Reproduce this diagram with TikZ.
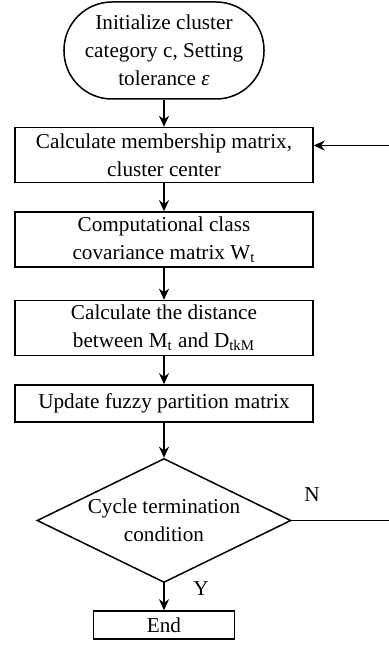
\documentclass[tikz,border=0pt]{standalone}
\usepackage{fontspec}
\setmainfont{Liberation Serif}
\usetikzlibrary{positioning,shapes.geometric,arrows.meta}

\tikzset{
  every node/.style={font=\fontsize{10.6}{14}\selectfont, align=center},
  startbox/.style={draw, line width=0.75pt, rounded corners=24pt, minimum width=100pt, minimum height=48.5pt, inner sep=0pt},
  stepbox/.style={draw, line width=0.75pt, minimum width=149pt, minimum height=27.5pt, inner sep=1pt},
  testbox/.style={draw, line width=0.75pt, diamond, aspect=2, minimum width=127pt, minimum height=62pt, inner sep=0pt},
  flow/.style={line width=0.75pt, -{Stealth[length=5.5pt,width=5pt]}}
}

\begin{document}
\begin{tikzpicture}
  \useasboundingbox (-82pt,25.25pt) rectangle (112pt,-300.75pt);
  \node[startbox] (init) {Initialize cluster\\category c, Setting\\tolerance {\itshape ε}};
  \node[stepbox, below=13.5pt of init] (member) {Calculate membership matrix,\\cluster center};
  \node[stepbox, below=14pt of member] (covar) {Computational class\\covariance matrix W\textsubscript{t}};
  \node[stepbox, below=16pt of covar] (dist) {Calculate the distance\\between M\textsubscript{t} and D\textsubscript{tkM}};
  \node[stepbox, minimum height=18.5pt, below=14pt of dist] (update) {Update fuzzy partition matrix};
  \node[testbox, below=17.5pt of update] (cycle) {Cycle termination\\condition};
  \node[stepbox, minimum width=70.5pt, minimum height=14pt, below=13.5pt of cycle] (stop) {End};
  \coordinate[right=51pt of cycle.east] (turn);

  \draw[flow] (init) -- (member);
  \draw[flow] (member) -- (covar);
  \draw[flow] (covar) -- (dist);
  \draw[flow] (dist) -- (update);
  \draw[flow] (update) -- (cycle);
  \draw[flow] (cycle) -- node[pos=0.2, right=11pt] {Y} (stop);
  \draw[flow] (cycle.east) -- node[pos=0.2, above=6pt] {N} (turn)
    |- ([yshift=4.75pt]member.east);
\end{tikzpicture}
\end{document}
